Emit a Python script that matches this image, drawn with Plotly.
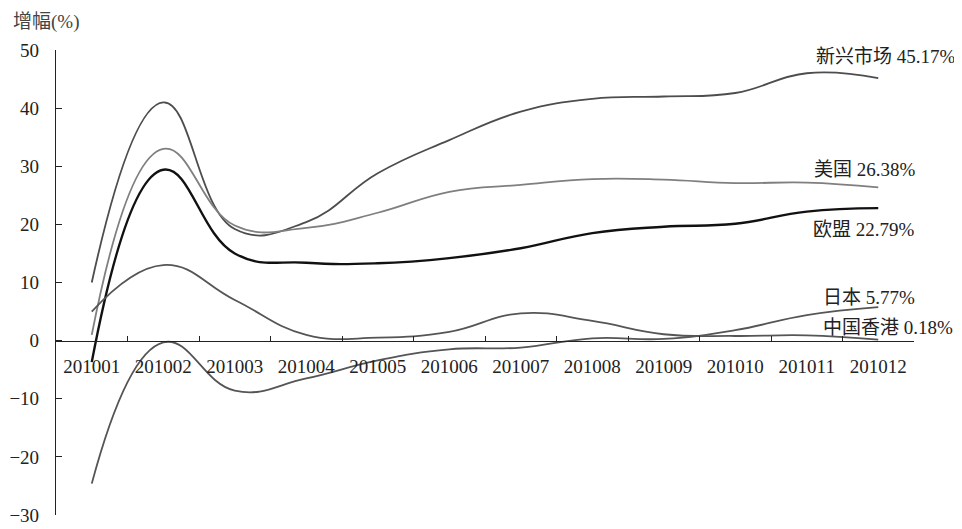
import plotly.graph_objects as go

months = ["201001", "201002", "201003", "201004", "201005", "201006",
          "201007", "201008", "201009", "201010", "201011", "201012"]

emerging = [10.0, 41.0, 19.2, 20.4, 28.8, 34.5, 39.4, 41.6, 42.0, 42.6, 46.0, 45.17]
usa = [1.0, 33.0, 19.8, 19.4, 22.0, 25.6, 26.8, 27.8, 27.7, 27.1, 27.2, 26.38]
eu = [-3.7, 29.4, 15.0, 13.4, 13.3, 14.2, 15.9, 18.5, 19.6, 20.1, 22.2, 22.79]
japan = [-24.6, -0.3, -8.6, -6.5, -3.4, -1.5, -1.2, 0.4, 0.3, 1.8, 4.4, 5.77]
hongkong = [5.0, 13.0, 7.0, 1.0, 0.5, 1.5, 4.7, 3.4, 1.1, 0.8, 0.9, 0.18]

series_names = ["新兴市场", "美国", "欧盟", "日本", "中国香港"]
series_values = [emerging, usa, eu, japan, hongkong]
series_colors = ["#4d4d4d", "#7f7f7f", "#111111", "#555555", "#555555"]
series_widths = [1.8, 1.8, 2.4, 1.8, 1.8]

y_min, y_max, y_step = -30, 50, 10
y_title = "增幅(%)"

FONT = "'Liberation Serif', 'Times New Roman', serif, 'Noto Sans CJK SC'"

fig = go.Figure()
for name, vals, col, w in zip(series_names, series_values, series_colors, series_widths):
    fig.add_trace(go.Scatter(
        x=months, y=vals, mode="lines", name=name,
        line=dict(color=col, width=w, shape="spline", smoothing=1.25),
        showlegend=False,
    ))

# end labels
label_pos = [  # (paper x, y value)
    (0.8846, 48.9), (0.8823, 29.4), (0.8810, 19.2), (0.8928, 7.5), (0.8928, 2.3)
]
for name, vals, (px, py) in zip(series_names, series_values, label_pos):
    fig.add_annotation(
        x=px, xref="paper", y=py, yref="y",
        text=f"{name} {vals[-1]:.2f}%", showarrow=False,
        xanchor="left", yanchor="middle", borderpad=0,
        font=dict(family=FONT, size=19, color="#222222"),
    )

fig.add_annotation(
    x=-0.0513, xref="paper", y=1.060, yref="paper",
    text=y_title, showarrow=False, xanchor="left", yanchor="middle", borderpad=0,
    font=dict(family=FONT, size=19, color="#444444"),
)

zero_pos = (0 - y_min) / (y_max - y_min)

fig.update_layout(
    template="none",
    width=954, height=521,
    margin=dict(l=48, r=48, t=42, b=14, autoexpand=False),
    paper_bgcolor="white", plot_bgcolor="white",
    font=dict(family=FONT, size=19, color="#222222"),
    xaxis=dict(
        type="category", range=[-0.5, len(months) - 0.5],
        anchor="free", position=zero_pos, automargin=False,
        showline=True, linecolor="#222222", linewidth=1.2,
        ticks="inside", ticklen=5, tickcolor="#222222", tickwidth=1.2,
        tickson="boundaries", showgrid=False, zeroline=False,
        ticklabelstandoff=8,
        tickfont=dict(family=FONT, size=19, color="#222222"),
    ),
    yaxis=dict(
        range=[y_min, y_max], tickvals=list(range(y_min, y_max + 1, y_step)),
        automargin=False,
        showline=True, linecolor="#222222", linewidth=1.2,
        ticks="inside", ticklen=6, tickcolor="#222222", tickwidth=1.2,
        showgrid=False, zeroline=False, ticklabelstandoff=12,
        tickfont=dict(family=FONT, size=19, color="#222222"),
    ),
)

fig.write_html("out.html")
